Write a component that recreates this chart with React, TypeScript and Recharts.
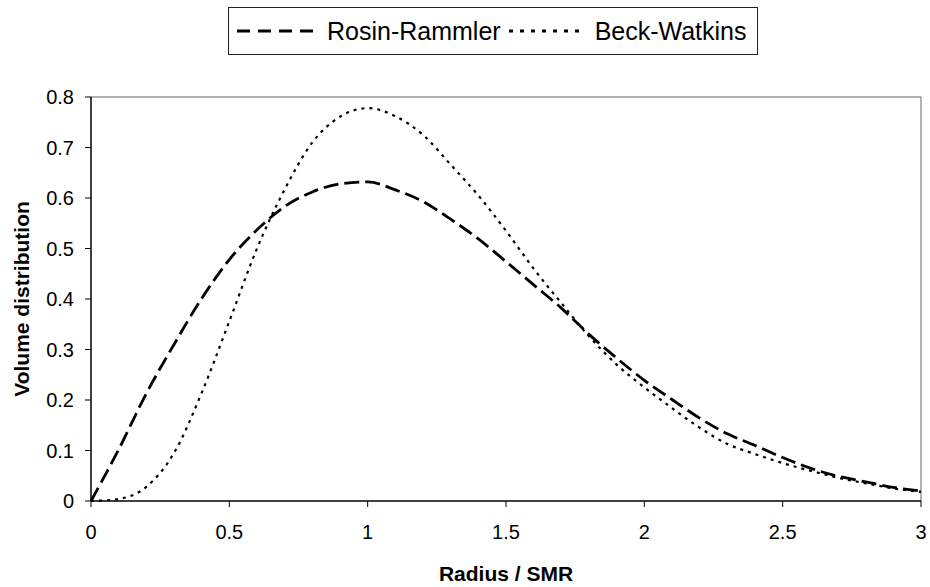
import { LineChart, Line, XAxis, YAxis, Legend, ReferenceLine } from "recharts";

// radius / SMR
const radius = [
  0, 0.1, 0.2, 0.3, 0.4, 0.5, 0.6, 0.7, 0.8, 0.9, 1.0, 1.1, 1.2, 1.3, 1.4, 1.5,
  1.6, 1.7, 1.8, 1.9, 2.0, 2.1, 2.2, 2.3, 2.4, 2.5, 2.6, 2.7, 2.8, 2.9, 3.0,
];
const rosinRammler = [
  0, 0.102, 0.213, 0.31, 0.401, 0.478, 0.537, 0.583, 0.612, 0.628, 0.632, 0.616,
  0.593, 0.558, 0.519, 0.474, 0.428, 0.382, 0.33, 0.283, 0.239, 0.201, 0.164,
  0.133, 0.11, 0.086, 0.065, 0.049, 0.038, 0.027, 0.02,
];
const beckWatkins = [
  0, 0.004, 0.028, 0.095, 0.214, 0.356, 0.5, 0.617, 0.71, 0.761, 0.778, 0.762,
  0.725, 0.666, 0.605, 0.535, 0.46, 0.392, 0.326, 0.27, 0.225, 0.184, 0.145,
  0.113, 0.093, 0.075, 0.06, 0.046, 0.035, 0.025, 0.018,
];
const xTicks = [0, 0.5, 1, 1.5, 2, 2.5, 3];
const yTicks = [0, 0.1, 0.2, 0.3, 0.4, 0.5, 0.6, 0.7, 0.8];

const data = radius.map((x, i) => ({ x, rr: rosinRammler[i], bw: beckWatkins[i] }));

const FONT = "Arial, 'Liberation Sans', Helvetica, sans-serif";
const RR_DASH = "15 6";
const BW_DASH = "3 5";

const LegendBox = () => (
  <div
    style={{
      display: "flex",
      alignItems: "center",
      border: "1px solid #222",
      height: 46,
      padding: "0 10px 0 8px",
      fontFamily: FONT,
      fontSize: 25,
      color: "#000",
      background: "#fff",
      whiteSpace: "nowrap",
    }}
  >
    <svg width={76} height={10}>
      <line x1={0} y1={5} x2={76} y2={5} stroke="#000" strokeWidth={3} strokeDasharray="13 8" />
    </svg>
    <span style={{ marginLeft: 14 }}>Rosin-Rammler</span>
    <svg width={72} height={10} style={{ marginLeft: 8 }}>
      <line x1={0} y1={5} x2={72} y2={5} stroke="#000" strokeWidth={3} strokeDasharray="4 7" />
    </svg>
    <span style={{ marginLeft: 14 }}>Beck-Watkins</span>
  </div>
);

const YTitle = (props: any) => {
  const vb = props.viewBox;
  const cy = vb.y + vb.height / 2;
  return (
    <text
      x={21}
      y={cy}
      transform={`rotate(-90, 21, ${cy})`}
      textAnchor="middle"
      dominantBaseline="central"
      fontFamily={FONT}
      fontSize={21}
      fontWeight="bold"
      fill="#000"
    >
      Volume distribution
    </text>
  );
};

const XTitle = (props: any) => {
  const vb = props.viewBox;
  return (
    <text
      x={vb.x + vb.width / 2}
      y={581}
      textAnchor="middle"
      fontFamily={FONT}
      fontSize={21}
      fontWeight="bold"
      fill="#000"
    >
      Radius / SMR
    </text>
  );
};

export default function App() {
  return (
    <div style={{ position: "absolute", left: 0, top: 0, width: 930, height: 587, background: "#fff" }}>
      <LineChart width={930} height={587} data={data} margin={{ top: 97, right: 9, bottom: 36, left: 11 }}>
        <XAxis
          dataKey="x"
          type="number"
          domain={[0, 3]}
          ticks={xTicks}
          tickFormatter={(v: number) => String(v)}
          tickSize={6}
          tickMargin={18}
          height={50}
          stroke="#000"
          axisLine={{ stroke: "#000", strokeWidth: 1.5 }}
          tickLine={{ stroke: "#000" }}
          tick={{ fill: "#000", fontSize: 20, fontFamily: FONT }}
          label={<XTitle />}
        />
        <YAxis
          type="number"
          domain={[0, 0.8]}
          ticks={yTicks}
          tickFormatter={(v: number) => String(v)}
          tickSize={6}
          tickMargin={11}
          width={80}
          stroke="#000"
          axisLine={{ stroke: "#000", strokeWidth: 1.5 }}
          tickLine={{ stroke: "#000" }}
          tick={{ fill: "#000", fontSize: 20, fontFamily: FONT }}
          label={<YTitle />}
        />
        <ReferenceLine y={0.8} stroke="#999" strokeWidth={1.5} />
        <ReferenceLine x={3} stroke="#999" strokeWidth={1.5} />
        <Legend
          layout="horizontal"
          verticalAlign="middle"
          align="center"
          content={() => <LegendBox />}
          wrapperStyle={{ position: "absolute", top: 7, left: 228, width: "auto" }}
        />
        <Line
          type="monotone"
          dataKey="rr"
          name="Rosin-Rammler"
          stroke="#000"
          strokeWidth={2.8}
          strokeDasharray={RR_DASH}
          dot={false}
          activeDot={false}
          isAnimationActive={false}
        />
        <Line
          type="monotone"
          dataKey="bw"
          name="Beck-Watkins"
          stroke="#000"
          strokeWidth={2.2}
          strokeDasharray={BW_DASH}
          dot={false}
          activeDot={false}
          isAnimationActive={false}
        />
      </LineChart>
    </div>
  );
}
